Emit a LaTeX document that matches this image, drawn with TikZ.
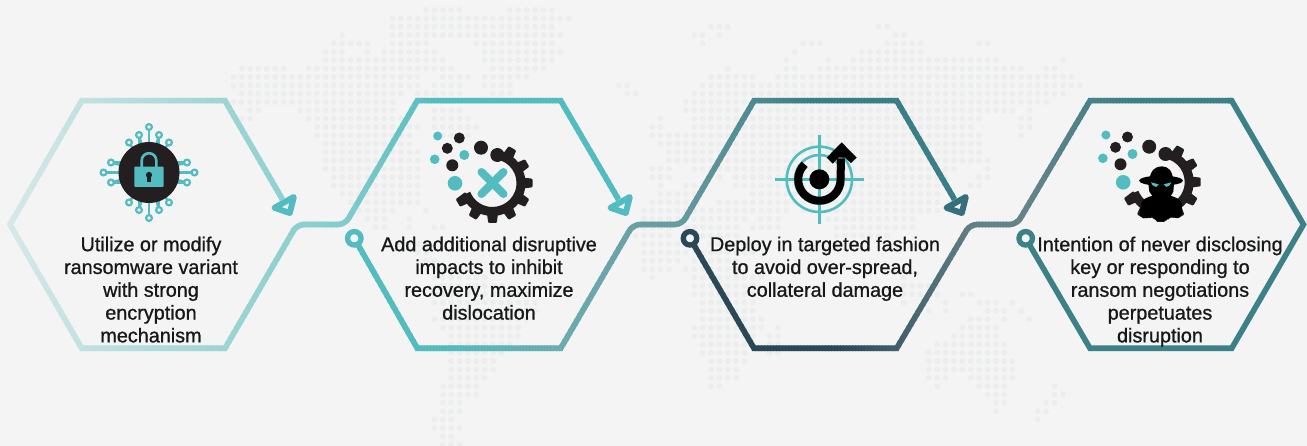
\documentclass[tikz,border=0pt]{standalone}
\usepackage{fontspec}
\setmainfont[FakeStretch=0.99,FakeBold=0.9]{Liberation Sans}
\definecolor{bgc}{HTML}{F4F4F4}
\definecolor{dotc}{HTML}{ECEEEE}
\definecolor{inkc}{HTML}{231F20}
\definecolor{txtc}{HTML}{161819}
\definecolor{tealc}{HTML}{52BCC0}
\definecolor{paleA}{HTML}{D6E9E8}
\definecolor{paleB}{HTML}{9ED4D4}
\definecolor{paleC}{HTML}{82CCCC}
\definecolor{grayA}{HTML}{6CABAF}
\definecolor{grayB}{HTML}{669A9F}
\definecolor{deepA}{HTML}{3A7F87}
\definecolor{deepB}{HTML}{376E7C}
\definecolor{navyA}{HTML}{2A4858}
\definecolor{navyB}{HTML}{648389}
\definecolor{hexD}{HTML}{3C8088}
\tikzset{
  hexline/.style={line width=5.6pt,line join=miter,miter limit=10,line cap=butt},
  mapdot/.style={fill=dotc},
  ringnode/.style={circle,minimum size=13.5pt,inner sep=0pt,line width=5.3pt,fill=bgc},
  arrowtri/.style={line width=6pt,line join=round,fill=bgc},
  steptext/.style={anchor=north,align=center,inner sep=0pt,text=txtc,font=\fontsize{20}{22.8}\selectfont},
  tealfill/.style={fill=tealc},
  inkfill/.style={fill=inkc},
  chipring/.style={draw=tealc,line width=2.2pt,fill=bgc},
  chipwire/.style={draw=tealc,line width=2.4pt}
}
% stroke a path with a colour running along x, by painting it through narrow strips
\newcommand\gradstroke[5]{%
  \pgfmathtruncatemacro\nst{max(1,(#3-#2)/3)}%
  \foreach \k in {1,...,\nst}{%
    \pgfmathsetmacro\xa{#2+(\k-1)*(#3-#2)/\nst}%
    \pgfmathsetmacro\xb{#2+\k*(#3-#2)/\nst+1}%
    \pgfmathtruncatemacro\pct{100*\k/\nst}%
    \colorlet{stripc}{#5!\pct!#4}%
    \begin{scope}
      \clip (\xa,-5) rectangle (\xb,451);
      \draw[hexline,stripc] #1;
    \end{scope}
  }%
}
\newcommand\gearicon[2]{%
  \begin{scope}[shift={(#1,#2)}]
    \draw[draw=inkc,line width=9pt] (-80:28.5) arc (-80:158:28.5);
    \foreach \a in {60,30,0,-30,-60,-90,-120,-150}{
      \fill[inkfill,rotate=-\a,rounded corners=1pt] (28,-5.8) -- (40,-4.3) -- (40,4.3) -- (28,5.8) -- cycle;
    }
    \fill[inkfill] (4.8,-28) circle (7);
    \fill[inkfill] (-33.2,-45) circle (5.5);
    \fill[inkfill] (-45.2,-34.7) circle (5.5);
    \fill[inkfill] (-11.5,-35.3) circle (7);
    \fill[inkfill] (-40.2,-17.7) circle (6);
    \fill[tealfill] (-54.8,-47) circle (4.5);
    \fill[tealfill] (-28.2,-28) circle (5);
    \fill[tealfill] (-57.8,-23.7) circle (4.8);
    \fill[tealfill] (-37.5,0.3) circle (7.3);
  \end{scope}%
}
\begin{document}
\begin{tikzpicture}[x=1pt,y=1pt,yscale=-1]
\useasboundingbox (0,0) rectangle (1307,446);
\fill[bgc] (0,0) rectangle (1307,446);
% world map of dots
\foreach \r/\spans in {
0/{23/27,33/38},
1/{19/40},
2/{19/38,57/59,77/78},
3/{13/13,19/39,55/56,58/58,79/80},
4/{12/16,19/23,29/38,56/56,68/70,78/82,89/90},
5/{11/13,16/16,18/24,30/39,67/67,75/82},
6/{11/25,30/38,66/66,71/71,74/91,99/99},
7/{1/6,9/26,31/37,59/59,66/67,70/94,97/98},
8/{0/22,25/28,30/35,57/62,65/100},
9/{0/22,24/27,30/33,46/47,56/101},
10/{1/20,22/27,31/33,47/48,55/99},
11/{0/19,54/97},
12/{2/3,8/19,24/27,54/60,63/93,95/95},
13/{1/2,9/20,24/28,51/51,55/89,94/95},
14/{10/22,24/29,50/51,55/88,94/95},
15/{10/21,25/28,50/89,94/94},
16/{11/21,51/89},
17/{11/22,52/89},
18/{11/22,52/90},
19/{11/22,50/52,55/86,90/90},
20/{12/22,50/52,58/58,60/85,89/90},
21/{12/22,51/51,54/55,60/85,88/89},
22/{13/22,51/55,62/84},
23/{14/22,50/54,58/84},
24/{15/19,23/23,49/66,68/84},
25/{16/18,21/21,49/61,63/65,71/81},
26/{17/18,21/21,24/25,48/52,54/60,62/65,72/81},
27/{48/52,56/60,72/78},
28/{22/23,49/54,57/62},
29/{22/23,49/54,56/62},
30/{23/24,49/53,55/60},
31/{24/28,49/52,54/60},
32/{24/30,50/50,55/63,80/80},
33/{25/32,55/62,80/84},
34/{24/35,55/62,80/84,87/88},
35/{24/36,56/62,80/80,85/85,89/91,93/93},
36/{25/36,56/62,83/83,85/85,90/92,94/94},
37/{24/35,56/63,88/90,92/92,95/95},
38/{25/34,55/63,65/65,87/91},
39/{26/34,55/62,64/65,86/91},
40/{26/33,56/62,64/65,84/92},
41/{26/32,56/61,64/65,83/92},
42/{26/31,57/61,83/93},
43/{26/31,57/60,83/93},
44/{26/30,57/60,83/85,88/93},
45/{25/29,57/58,84/84,89/92,98/98},
46/{25/29,90/92,98/99},
47/{25/27,91/92,97/98},
48/{25/27,91/91,96/97},
49/{24/26,96/96},
50/{24/27},
51/{25/26},
52/{25/27}}{
  \foreach \a/\b in \spans {
    \fill[mapdot] foreach \c in {\a,...,\b} {({233.3+8.38*\c},{10+8.36*\r}) circle (3)};
  }
}
% hexagon corners
\coordinate (h1a) at (10,224.5);
\coordinate (h1tl) at (81.7,100.7);
\coordinate (h1tr) at (225,100.7);
\coordinate (h1bl) at (81.7,348.3);
\coordinate (h1br) at (225,348.3);
\coordinate (h2tl) at (417.3,100.7);
\coordinate (h2tr) at (560.7,100.7);
\coordinate (h2bl) at (417.3,348.3);
\coordinate (h2br) at (560.7,348.3);
\coordinate (h3tl) at (754,100.7);
\coordinate (h3tr) at (896.7,100.7);
\coordinate (h3bl) at (754,348.3);
\coordinate (h3br) at (896.7,348.3);
\coordinate (h4tl) at (1090,100.7);
\coordinate (h4tr) at (1231.7,100.7);
\coordinate (h4a) at (1303.5,224.5);
\coordinate (h4bl) at (1090,348.3);
\coordinate (h4br) at (1231.7,348.3);
\coordinate (j1a) at (297,224.5);
\coordinate (j1b) at (345,224.5);
\coordinate (j2a) at (633,224.5);
\coordinate (j2b) at (681.7,224.5);
\coordinate (j3a) at (970,224.5);
\coordinate (j3b) at (1016.7,224.5);
\coordinate (e1) at (282.5,199.5);
\coordinate (e2) at (618.5,199.5);
\coordinate (e3) at (954.5,199.5);
\coordinate (ring2c) at (354.3,238.3);
\coordinate (ring3c) at (690,238.3);
\coordinate (ring4c) at (1025.7,238.3);
% hexagon outlines
\newcommand\chainA{(e1) -- (h1tr) -- (h1tl) -- (h1a) -- (h1bl) -- (h1br) [rounded corners=7pt] -- (j1a) -- (j1b) [sharp corners] -- (h2tl) -- (h2tr) -- (e2)}
\gradstroke{\chainA}{5}{225}{paleA}{paleB}
\gradstroke{\chainA}{225}{345}{paleB}{paleC}
\gradstroke{\chainA}{345}{440}{paleC}{tealc}
\gradstroke{\chainA}{440}{625}{tealc}{tealc}
\newcommand\chainB{(ring2c) -- (h2bl) -- (h2br) [rounded corners=7pt] -- (j2a) -- (j2b) [sharp corners] -- (h3tl) -- (h3tr) -- (e3)}
\gradstroke{\chainB}{345}{430}{tealc}{tealc}
\gradstroke{\chainB}{430}{565}{tealc}{grayA}
\gradstroke{\chainB}{565}{682}{grayA}{grayB}
\gradstroke{\chainB}{682}{810}{grayB}{deepA}
\gradstroke{\chainB}{810}{960}{deepA}{deepA}
\newcommand\chainC{(ring3c) -- (h3bl) -- (h3br) [rounded corners=7pt] -- (j3a) -- (j3b) [sharp corners] -- (h4tl) -- (h4tr)}
\gradstroke{\chainC}{685}{840}{navyA}{navyA}
\gradstroke{\chainC}{840}{985}{navyA}{navyB}
\gradstroke{\chainC}{985}{1030}{navyB}{navyB}
\gradstroke{\chainC}{1030}{1125}{navyB}{hexD}
\gradstroke{\chainC}{1125}{1234}{hexD}{hexD}
\draw[hexline,hexD] (1228,100.7) -- (h4tr) -- (h4a) -- (h4br) -- (h4bl) -- (ring4c);
% start rings
\node[ringnode,draw=tealc] (ring2) at (ring2c) {};
\node[ringnode,draw=navyA] (ring3) at (ring3c) {};
\node[ringnode,draw=hexD] (ring4) at (ring4c) {};
% arrow heads
\foreach \ox/\col in {0/tealc,336/tealc,672/deepB}{
  \begin{scope}[xshift=\ox]
    \draw[arrowtri,draw=\col] (274.5,207.8) -- (293.8,197) -- (289.8,213) -- cycle;
  \end{scope}
}
% icon 1: padlock on a circuit
\begin{scope}[shift={(149,172.5)}]
  \foreach \px/\py in {0/-45.5,-10/-37.5,10/-37.5,-20/-30,20/-30,-38/-10,-45.5/0,-38/10,38/-10,45.5/0,38/10,-20/30,-10/37.5,0/45.5,10/37.5,20/30}{
    \draw[chipwire] (0,0) -- (\px,\py);
  }
  \foreach \px/\py in {-38/-10,-38/10,38/-10,38/10}{
    \draw[chipwire] (\px*0.6,\py) -- (\px,\py);
  }
  \foreach \px/\py in {-10/-37.5,10/-37.5,-10/37.5,10/37.5}{
    \draw[chipwire] (\px,\py*0.6) -- (\px,\py);
  }
  \foreach \px/\py in {0/-45.5,-10/-37.5,10/-37.5,-20/-30,20/-30,-38/-10,-45.5/0,-38/10,38/-10,45.5/0,38/10,-20/30,-10/37.5,0/45.5,10/37.5,20/30}{
    \filldraw[chipring] (\px,\py) circle (2.9);
  }
  \fill[inkfill] (0,0) circle (30.5);
  \draw[draw=tealc,line width=2.6pt] (-7.3,-3) -- (-7.3,-12) arc (180:360:7.3) -- (7.3,-3);
  \fill[tealfill,rounded corners=1pt] (-14.7,-5.8) rectangle (14.7,14.5);
  \fill[inkfill] (0,2.5) circle (3.1);
  \fill[inkfill] (-1.6,3) rectangle (1.6,9.2);
\end{scope}
% icon 2: gear with a cross
\gearicon{492.5}{183}
\draw[draw=tealc,line width=8pt,line cap=round] (481.5,172) -- (503.5,194);
\draw[draw=tealc,line width=8pt,line cap=round] (503.5,172) -- (481.5,194);
% icon 3: target and arrow
\begin{scope}[shift={(765,125)},scale=1/3]
  \draw[draw=tealc,line width=2.6pt] (30,163) -- (297,163);
  \draw[draw=tealc,line width=2.6pt] (163,30) -- (163,297);
  \draw[draw=tealc,line width=2.6pt] (163,163) circle (98);
  \draw[draw=tealc,line width=2.6pt] (163,163) circle (73);
  \fill[fill=black] (163,163) circle (30);
  \draw[draw=black,line width=8pt] (119,118) arc (-134:-360:63.5) -- (228,100);
  \fill[fill=black] (230,52) -- (275,98) -- (258,114) -- (240,98) -- (220,98) -- (203,116) -- (185,98) -- cycle;
\end{scope}
% icon 4: gear with a hooded figure
\gearicon{1160.7}{182}
\begin{scope}[shift={(1090,120)},scale=1/3]
  \fill[fill=black] (178,180) .. controls (182,150) and (195,140) .. (215,139) .. controls (235,140) and (246,150) .. (250,180) -- cycle;
  \fill[fill=black] (213,182) ellipse (66 and 15);
  \fill[fill=black] (175,190) -- (178,215) -- (190,232) -- (240,232) -- (250,215) -- (252,190) -- cycle;
  \fill[fill=black,rounded corners=4pt] (190,225) -- (155,240) -- (148,292) -- (172,297) -- (188,288) -- (196,304) -- (232,304) -- (240,288) -- (258,297) -- (278,288) -- (274,240) -- (238,225) -- cycle;
  \fill[tealfill] (183,187) -- (206,193) -- (198,201) -- (188,196) -- cycle;
  \fill[tealfill] (244,187) -- (221,193) -- (229,201) -- (239,196) -- cycle;
\end{scope}
% labels
\node[steptext] (t1) at (151,235) {\strut Utilize or modify\\ransomware variant\\with strong\\encryption\\mechanism};
\node[steptext] (t2) at (489,235) {\strut Add additional disruptive\\impacts to inhibit\\recovery, maximize\\dislocation};
\node[steptext] (t3) at (825,235) {\strut Deploy in targeted fashion\\to avoid over-spread,\\collateral damage};
\node[steptext] (t4) at (1160,235) {\strut Intention of never disclosing\\key or responding to\\ransom negotiations\\perpetuates\\disruption};
\end{tikzpicture}
\end{document}
